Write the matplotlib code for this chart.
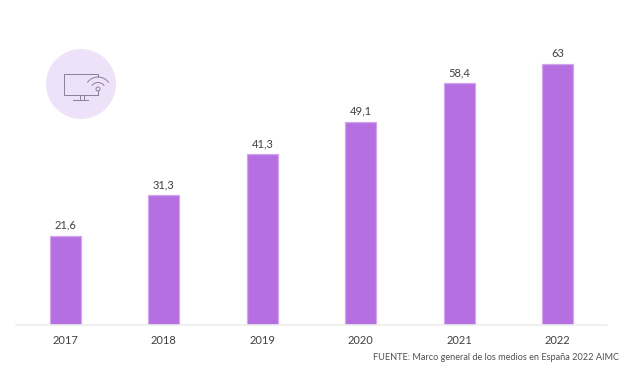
import matplotlib
matplotlib.use("Agg")
import matplotlib.pyplot as plt
from matplotlib.patches import Circle, Arc

plt.rcParams['font.family'] = ['Lato', 'DejaVu Sans']

years = ['2017', '2018', '2019', '2020', '2021', '2022']
values = [21.6, 31.3, 41.3, 49.1, 58.4, 63]
value_labels = ['21,6', '31,3', '41,3', '49,1', '58,4', '63']
source = 'FUENTE: Marco general de los medios en España 2022 AIMC'

W, H = 636, 369
fig = plt.figure(figsize=(W / 100, H / 100), dpi=100, facecolor='white')

L, R, T, B = 16, 607, 20, 325
ax = fig.add_axes([L / W, 1 - B / H, (R - L) / W, (B - T) / H])
xs = list(range(len(years)))
ax.bar(xs, values, width=0.31, color='#B66FE0', edgecolor='#D2A6EE', linewidth=0.9)
ax.set_xlim(-0.5, 5.5)
ax.set_ylim(0, (B - T) / 4.14)
for x, v, t in zip(xs, values, value_labels):
    ax.annotate(t, (x, v), xytext=(0, 3.5), textcoords='offset points', ha='center', va='bottom',
                fontsize=8, color='#404040')
ax.set_xticks(xs, years)
ax.tick_params(axis='x', length=0, pad=7.5, labelsize=8, labelcolor='#404040')
ax.set_yticks([])
for s in ['top', 'left', 'right']:
    ax.spines[s].set_visible(False)
ax.spines['bottom'].set_color('#EDEDED')
ax.spines['bottom'].set_linewidth(1.2)

fig.text(619 / W, 1 - 357.5 / H, source, ha='right', va='center', fontsize=6.6, color='#505050')

# decorative icon, in pixel coordinates
ic = fig.add_axes([0, 0, 1, 1], facecolor='none')
ic.set_xlim(0, W)
ic.set_ylim(H, 0)
ic.axis('off')
ic.add_patch(Circle((81, 84), 35, fc='#EEE2F8', ec='none'))
c = '#8C7F99'
lw = 0.7
ic.plot([98, 98, 63.5, 63.5, 98], [77, 74, 74, 95, 95], color=c, lw=lw)
ic.plot([80, 80], [95, 100], color=c, lw=lw)
ic.plot([83.5, 83.5], [95, 100], color=c, lw=lw)
ic.plot([73, 88], [100, 100], color=c, lw=lw)
ic.add_patch(Circle((98, 89), 2, fc='none', ec=c, lw=lw))
ic.plot([98, 98], [91, 95], color=c, lw=lw)
ic.add_patch(Arc((98, 90), 15, 15, theta1=215, theta2=325, ec=c, lw=lw))
ic.add_patch(Arc((98, 90), 26, 26, theta1=215, theta2=325, ec=c, lw=lw))

fig.savefig('out.png', dpi=100, facecolor='white')
